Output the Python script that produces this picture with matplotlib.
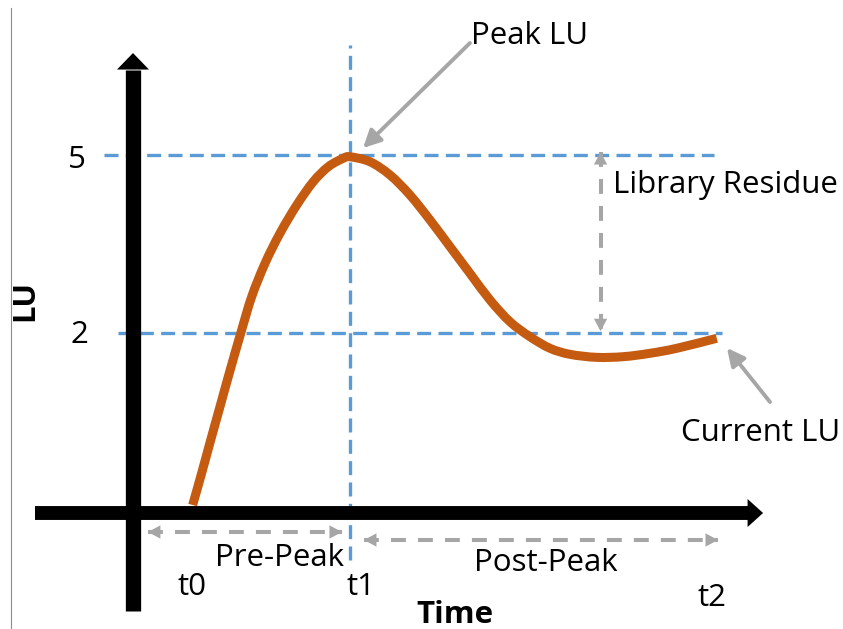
import matplotlib
matplotlib.use("Agg")
import matplotlib.pyplot as plt
import matplotlib.transforms as mtransforms
from matplotlib.patches import Polygon, PathPatch
from matplotlib.path import Path
from matplotlib.lines import Line2D

# ---------------- data (time units: t0=0, t1=1 ; LU units) ----------------
curve_t = [-0.002, 0.055, 0.113, 0.172, 0.231, 0.304, 0.374, 0.459, 0.554,
           0.661, 0.766, 0.862, 0.957, 1.0, 1.127, 1.255, 1.382, 1.510,
           1.637, 1.764, 1.892, 2.019, 2.146, 2.274, 2.401, 2.571, 2.741,
           2.911, 3.081, 3.336]
curve_lu = [-0.899, -0.365, 0.197, 0.758, 1.321, 1.995, 2.612, 3.175, 3.680,
            4.157, 4.550, 4.803, 4.945, 4.970, 4.887, 4.663, 4.326, 3.904,
            3.455, 3.006, 2.556, 2.190, 1.938, 1.742, 1.641, 1.590, 1.601,
            1.658, 1.742, 1.911]

peak_lu = 5
current_lu = 2
ytick_labels = ["5", "2"]
t_labels = ["t0", "t1", "t2"]
t_peak = 1.0

# ---------------- style ----------------
ORANGE = "#C55A11"
BLUE = "#5B9BD5"
GRAY = "#A6A6A6"
FONT = "Open Sans"
FS = 22.5

W, H, DPI = 843, 629, 100
fig = plt.figure(figsize=(W / DPI, H / DPI), dpi=DPI)
ax = fig.add_axes([0, 0, 1, 1])
ax.set_xlim(-1.229, 4.140)
ax.set_ylim(-2.989, 7.613)
ax.axis("off")

# thin border line at left (screenshot edge)
fig.add_artist(Line2D([0.013, 0.013], [0.0, 0.987], transform=fig.transFigure,
                      color="#8C8C8C", lw=0.8))

def head(tip_x, tip_y, verts_in):
    tr = fig.dpi_scale_trans + mtransforms.ScaledTranslation(tip_x, tip_y, ax.transData)
    ax.add_patch(Polygon(verts_in, closed=True, facecolor="black", edgecolor="none",
                         transform=tr, zorder=6))

# ---------------- axes arrows ----------------
y_axis_t = -0.382
x_axis_lu = -1.034
ax.plot([y_axis_t, y_axis_t], [-2.686, 6.433], color="black", lw=11,
        solid_capstyle="butt", zorder=5)
head(y_axis_t, 6.719, [(0, 0), (-0.16, -0.165), (0.16, -0.165)])
ax.plot([-1.006, 3.535], [x_axis_lu, x_axis_lu], color="black", lw=10,
        solid_capstyle="butt", zorder=5)
head(3.631, x_axis_lu, [(0, 0), (-0.155, 0.14), (-0.155, -0.14)])

# ---------------- reference dashed lines ----------------
dash_blue = (0, (4.2, 2.2))
ax.plot([-0.567, 3.318], [peak_lu, peak_lu], color=BLUE, lw=2.4, ls=dash_blue, zorder=2)
ax.plot([-0.478, 3.369], [current_lu, current_lu], color=BLUE, lw=2.4, ls=dash_blue, zorder=2)
ax.plot([t_peak, t_peak], [-1.826, 6.854], color=BLUE, lw=2.4, ls=dash_blue, zorder=2)

# ---------------- curve (smooth Bezier path through the read points) ----------------
pts = list(zip(curve_t, curve_lu))
verts = [pts[0]]
codes = [Path.MOVETO]
n = len(pts)
for i in range(n - 1):
    p0 = pts[i - 1] if i > 0 else pts[i]
    p1 = pts[i]
    p2 = pts[i + 1]
    p3 = pts[i + 2] if i + 2 < n else pts[i + 1]
    c1 = (p1[0] + (p2[0] - p0[0]) / 6, p1[1] + (p2[1] - p0[1]) / 6)
    c2 = (p2[0] - (p3[0] - p1[0]) / 6, p2[1] - (p3[1] - p1[1]) / 6)
    verts += [c1, c2, p2]
    codes += [Path.CURVE4] * 3
ax.add_patch(PathPatch(Path(verts, codes), facecolor="none", edgecolor=ORANGE,
                       lw=6.5, capstyle="butt", joinstyle="round", zorder=4))

# ---------------- gray arrows ----------------
dash_gray = (0, (3.7, 3.0))

def gray_head(tip, frm):
    ax.annotate("", xy=tip, xytext=frm,
                arrowprops=dict(arrowstyle="-|>,head_length=0.6,head_width=0.32",
                                color=GRAY, lw=0, mutation_scale=15,
                                shrinkA=0, shrinkB=0), zorder=3)

def dashed_double(p1, p2):
    ax.plot([p1[0], p2[0]], [p1[1], p2[1]], color=GRAY, lw=2.9, ls=dash_gray, zorder=3)
    gray_head(p1, p2)
    gray_head(p2, p1)

dashed_double((2.596, 5.05), (2.596, 2.03))
dashed_double((-0.287, -1.354), (0.949, -1.354))
dashed_double((1.089, -1.489), (3.344, -1.489))

for frm, tip in [((1.764, 6.888), (1.083, 5.118)), ((3.675, 0.837), (3.401, 1.747))]:
    ax.annotate("", xy=tip, xytext=frm,
                arrowprops=dict(arrowstyle="-|>,head_length=0.7,head_width=0.35",
                                color=GRAY, lw=2.8, mutation_scale=15,
                                shrinkA=0, shrinkB=0), zorder=3)

# ---------------- text ----------------
txt = dict(fontfamily=FONT, fontsize=FS, color="black")
ax.text(-0.739, 4.781, ytick_labels[0], ha="center", va="baseline", **txt)
ax.text(-0.723, 1.831, ytick_labels[1], ha="center", va="baseline", **txt)
ax.text(-1.070, 2.556, "LU", ha="center", va="center", rotation=90,
        fontweight="bold", **txt)

t_base = [-2.416, -2.416, -2.601]
t_cx = [-0.003, 1.070, 3.306]
for cx, yb, lab in zip(t_cx, t_base, t_labels):
    ax.text(cx, yb, lab, ha="center", va="baseline", **txt)

ax.text(1.669, -2.888, "Time", ha="center", va="baseline", fontweight="bold", **txt)
ax.text(2.146, 6.871, "Peak LU", ha="center", va="baseline", **txt)
ax.text(3.389, 4.360, "Library Residue", ha="center", va="baseline", **txt)
ax.text(3.615, 0.180, "Current LU", ha="center", va="baseline", **txt)
ax.text(0.548, -1.927, "Pre-Peak", ha="center", va="baseline", **txt)
ax.text(2.248, -2.011, "Post-Peak", ha="center", va="baseline", **txt)

fig.savefig("out.png", dpi=DPI)
